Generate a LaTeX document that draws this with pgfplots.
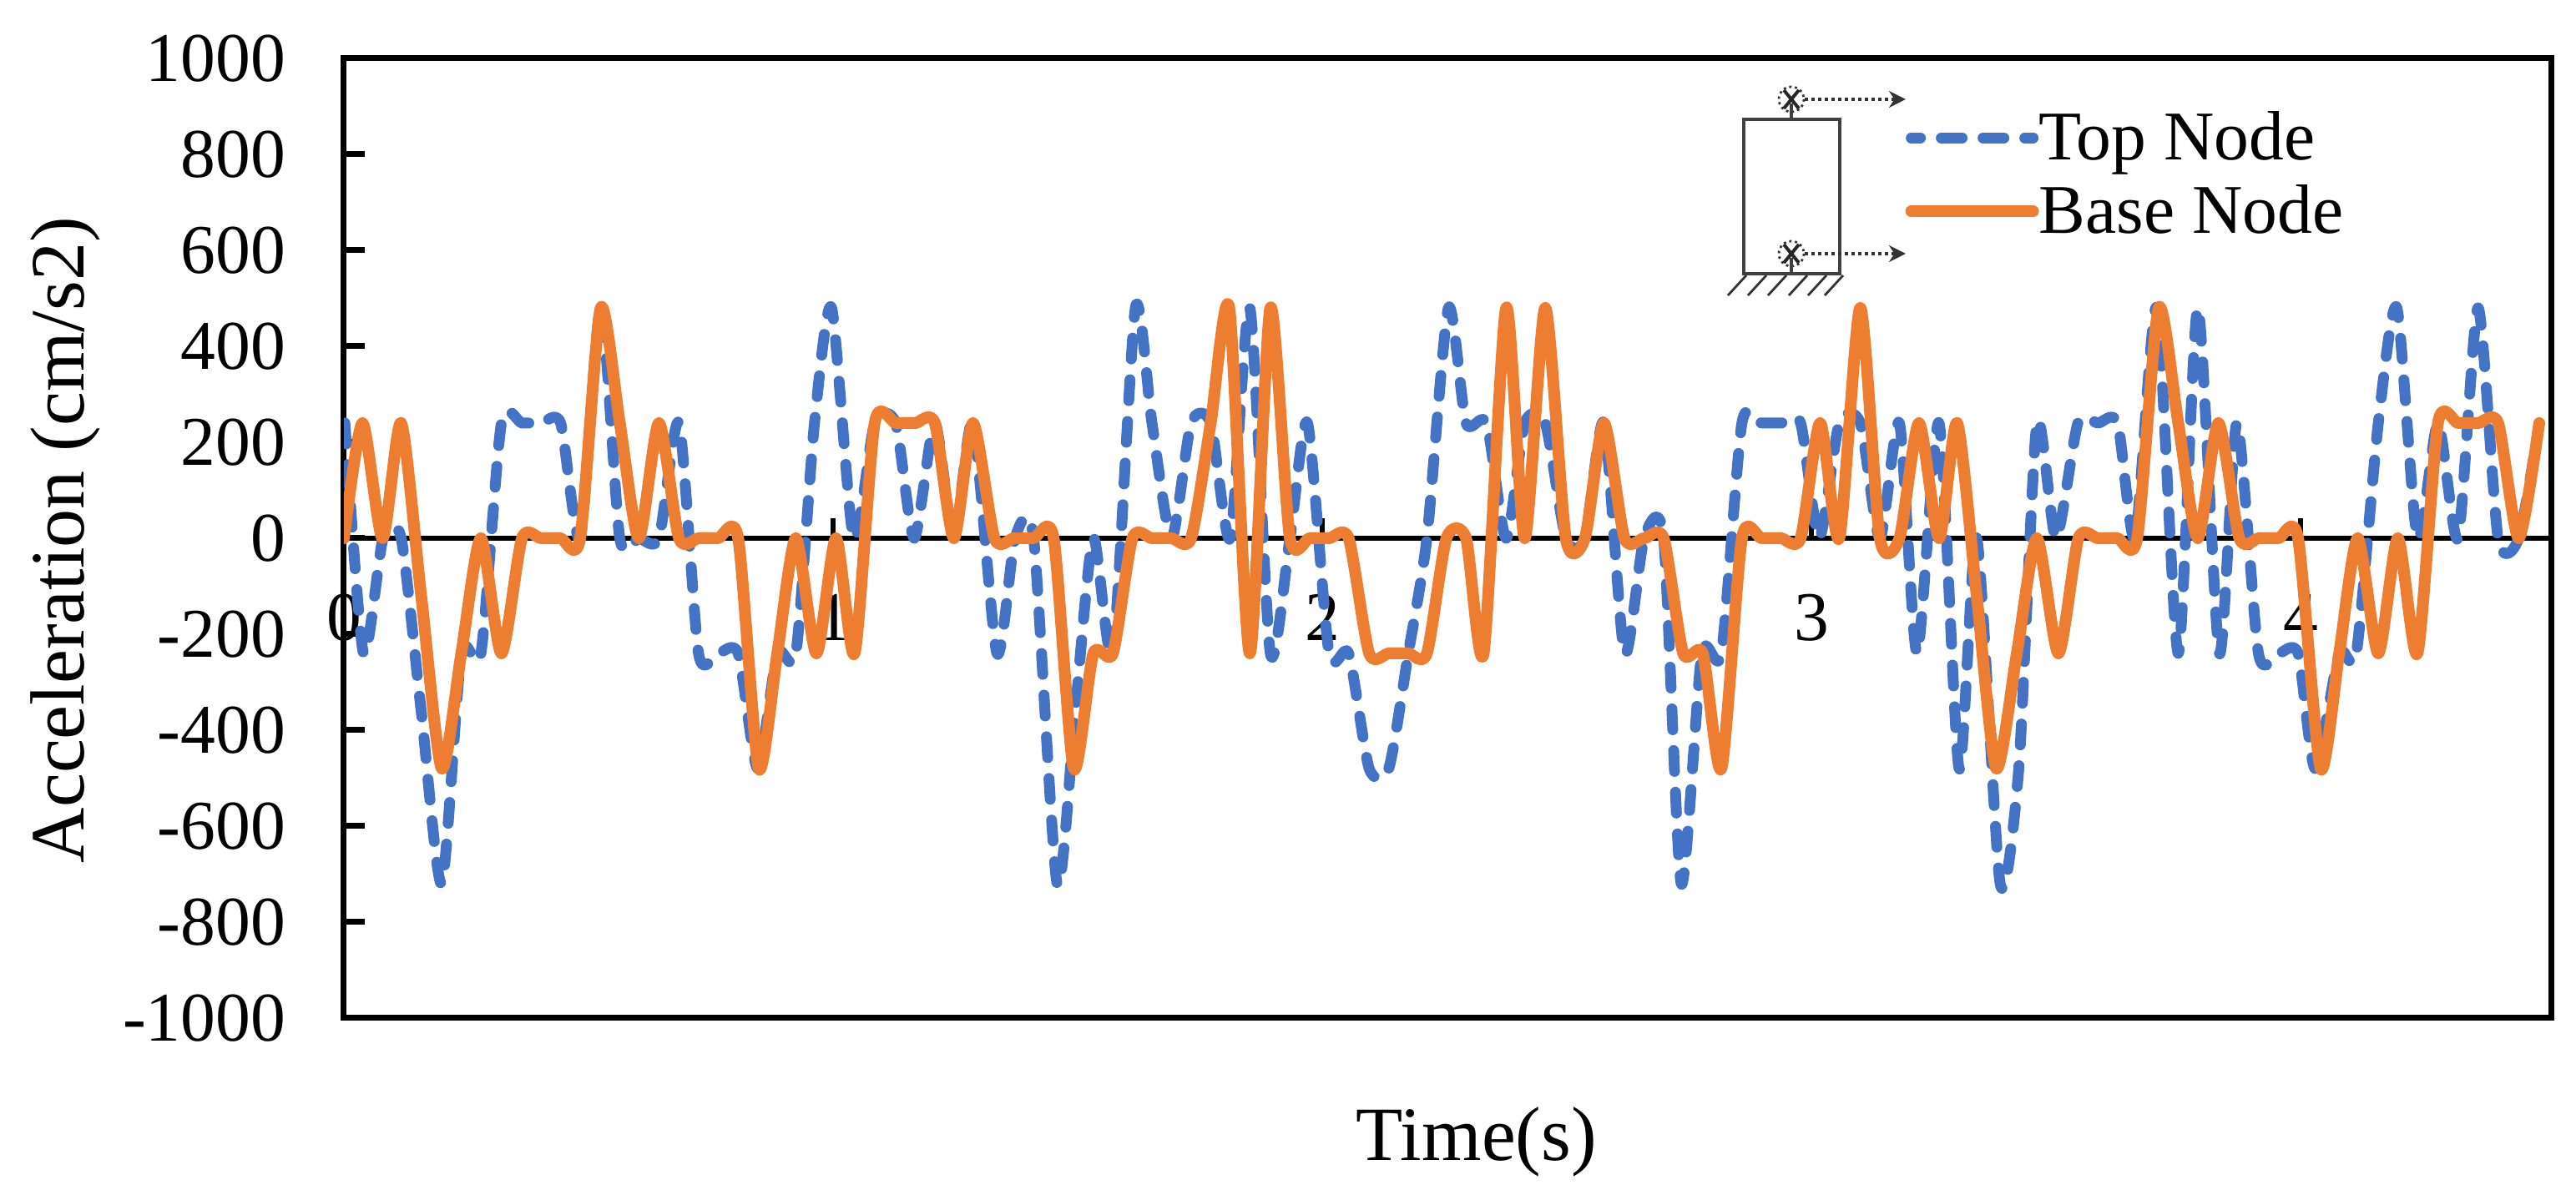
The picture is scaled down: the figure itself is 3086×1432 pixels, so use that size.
\documentclass[border=0pt]{standalone}
\usepackage{fontspec}
\setmainfont{Liberation Serif}
\usepackage{pgfplots}
\pgfplotsset{compat=1.18}
\usetikzlibrary{arrows.meta}
\definecolor{topblue}{HTML}{4472C4}
\definecolor{baseorange}{HTML}{ED7D31}
\newcommand{\tickfont}{\fontsize{20.9}{24}\selectfont}
\newcommand{\labelfont}{\fontsize{23}{27}\selectfont}
\begin{document}
\begin{tikzpicture}
% x axis running through zero, under the curves
\begin{axis}[
    scale only axis, width=661pt, height=287.5pt,
    xmin=0, xmax=4.512, ymin=-1000, ymax=1000,
    axis x line*=middle, axis y line=none,
    xtick={0,1,2,3,4},
    x axis line style={line width=1.7pt},
    xtick style={line width=1.7pt, black},
    xtick align=inside, major tick length=6pt,
    /pgf/number format/assume math mode=true,
    xticklabel style={font=\tickfont, anchor=center, inner sep=0pt, yshift=-23.75pt},
]
\end{axis}
\begin{axis}[
    name=ax,
    scale only axis, width=661pt, height=287.5pt,
    xmin=0, xmax=4.512, ymin=-1000, ymax=1000,
    xtick=\empty,
    ytick={-1000,-800,...,1000},
    ytick align=inside, ytick pos=left, major tick length=6.25pt,
    axis line style={line width=1.75pt},
    ytick style={line width=1.75pt, black},
    /pgf/number format/assume math mode=true,
    /pgf/number format/1000 sep={},
    yticklabel style={font=\tickfont, anchor=east, inner sep=0pt, xshift=-17.25pt},
    xlabel={Time(s)}, ylabel={Acceleration (cm/s2)},
    label style={font=\labelfont},
    xlabel style={at={(axis description cs:0.5132,-0.1487)}, anchor=base},
    ylabel style={at={(axis description cs:-0.118,0.498)}, anchor=base},
    legend cell align=left,
    legend image code/.code={\draw[#1,dash phase=3.5pt] (0,0) -- (36.5pt,0);},
    legend style={at={(axis description cs:0.7075,0.945)}, anchor=north west,
      draw=none, fill=none, inner sep=0pt, outer sep=0pt, row sep=6pt,
      font=\tickfont, nodes={inner sep=0pt},
      /tikz/every even column/.append style={column sep=9.5pt}},
]
\addplot[topblue, line width=3.25pt, line cap=round, line join=round,
    dash pattern=on 6.25pt off 6.25pt, smooth, tension=0.42] coordinates {
  (0.002,240) (0.04,-240) (0.08,0) (0.117,0) (0.158,-360) (0.2,-720) (0.24,-240)
  (0.28,-240) (0.322,240) (0.364,240) (0.403,240) (0.443,240) (0.483,0)
  (0.525,480) (0.564,0) (0.603,0) (0.644,0) (0.685,240) (0.725,-240) (0.765,-240)
  (0.806,-240) (0.846,-480) (0.886,-240) (0.924,-240) (0.962,240) (0.997,480)
  (1.042,0) (1.085,240) (1.128,240) (1.166,0) (1.208,240) (1.247,0) (1.286,240)
  (1.335,-240) (1.372,0) (1.410,0) (1.458,-720) (1.495,-360) (1.532,0)
  (1.572,-240) (1.618,480) (1.652,240) (1.692,0) (1.732,240) (1.772,240)
  (1.812,0) (1.852,480) (1.894,-240) (1.934,0) (1.970,240) (2.014,-240)
  (2.054,-240) (2.096,-480) (2.136,-480) (2.176,-240) (2.214,0) (2.258,480)
  (2.294,240) (2.336,240) (2.376,0) (2.414,240) (2.456,240) (2.498,0) (2.537,0)
  (2.576,240) (2.618,-240) (2.658,0) (2.698,0) (2.734,-720) (2.776,-240)
  (2.816,-240) (2.858,240) (2.898,240) (2.938,240) (2.978,240) (3.016,0)
  (3.057,240) (3.100,240) (3.140,0) (3.180,240) (3.216,-240) (3.261,240)
  (3.302,-480) (3.338,0) (3.386,-720) (3.424,-480) (3.461,240) (3.500,0)
  (3.545,240) (3.586,240) (3.626,240) (3.662,0) (3.706,480) (3.750,-240)
  (3.790,480) (3.834,-240) (3.870,240) (3.914,-240) (3.955,-240) (3.995,-240)
  (4.030,-480) (4.079,-240) (4.114,-240) (4.159,240) (4.197,480) (4.239,0)
  (4.281,240) (4.322,0) (4.363,480) (4.404,0) (4.446,0) (4.488,240)
};
\addlegendentry{Top Node}
\addplot[baseorange, line width=3.5pt, line cap=round, line join=round,
    smooth, tension=0.42] coordinates {
  (0,0) (0.038,240) (0.079,0) (0.117,240) (0.158,-120) (0.2,-480) (0.24,-240)
  (0.28,0) (0.322,-240) (0.364,0) (0.403,0) (0.443,0) (0.483,0) (0.525,480)
  (0.564,240) (0.603,0) (0.644,240) (0.685,0) (0.725,0) (0.765,0) (0.806,0)
  (0.848,-480) (0.886,-240) (0.924,0) (0.966,-240) (1.006,0) (1.044,-240)
  (1.085,240) (1.128,240) (1.168,240) (1.208,240) (1.247,0) (1.286,240)
  (1.330,0) (1.370,0) (1.410,0) (1.451,0) (1.492,-480) (1.532,-240)
  (1.572,-240) (1.612,0) (1.652,0) (1.692,0) (1.732,0) (1.772,240) (1.810,480)
  (1.852,-240) (1.894,480) (1.934,0) (1.974,0) (2.014,0) (2.054,0) (2.096,-240)
  (2.136,-240) (2.176,-240) (2.214,-240) (2.254,0) (2.294,0) (2.330,-240)
  (2.376,480) (2.414,0) (2.456,480) (2.498,0) (2.537,0) (2.576,240) (2.618,0)
  (2.658,0) (2.698,0) (2.738,-240) (2.778,-240) (2.816,-480) (2.858,0) (2.898,0)
  (2.938,0) (2.978,0) (3.018,240) (3.057,0) (3.100,480) (3.140,0) (3.180,0)
  (3.220,240) (3.261,0) (3.298,240) (3.338,-120) (3.378,-480) (3.420,-240)
  (3.461,0) (3.505,-240) (3.546,0) (3.586,0) (3.626,0) (3.666,0) (3.710,480)
  (3.750,240) (3.790,0) (3.832,240) (3.875,0) (3.915,0) (3.955,0) (3.995,0)
  (4.041,-480) (4.079,-240) (4.117,0) (4.159,-240) (4.199,0) (4.239,-240)
  (4.281,240) (4.322,240) (4.363,240) (4.404,240) (4.446,0) (4.488,240)
};
\addlegendentry{Base Node}
\end{axis}
% small schematic of the column, coordinates in reference pixels
\begin{scope}[shift={(ax.north west)}, x=0.25pt, y=-0.25pt, shift={(-412,-70)}]
  \definecolor{sketch}{HTML}{404040}
  \draw[sketch, line width=0.8pt] (2089,143) rectangle (2204,328);
  \foreach \yy in {119,304} {
    \draw[black!80, line width=0.7pt, densely dotted] (2146,\yy) circle (15);
    \draw[black!85, line width=1pt] (2137,\yy-11) -- (2155,\yy+11) (2155,\yy-11) -- (2137,\yy+11);
    \draw[sketch, line width=1.2pt] (2146,\yy+5) -- (2146,\yy+24);
    \draw[black!80, line width=1pt, densely dotted, -{Stealth[length=5pt,width=5pt]}] (2162,\yy) -- (2283,\yy);
  }
  \foreach \xx in {2092,2116,2140,2165,2188,2208}
    \draw[black!80, line width=0.7pt] (\xx,330) -- (\xx-22,354);
  \pgfresetboundingbox
  \path[use as bounding box] (0,0) rectangle (3086,1432);
\end{scope}
\end{tikzpicture}
\end{document}
